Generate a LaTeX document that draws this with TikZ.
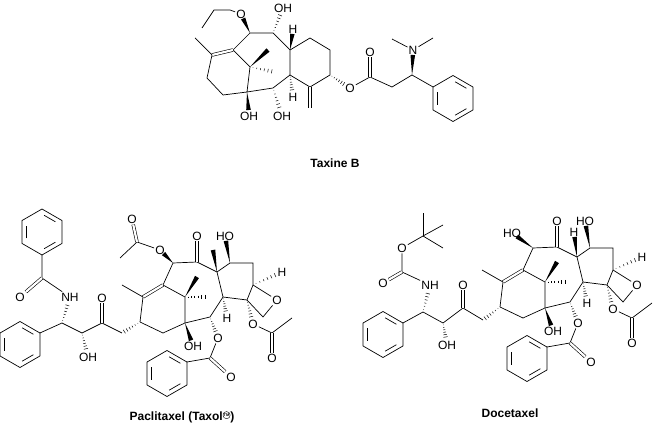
\documentclass[tikz,border=0pt]{standalone}
\usepackage{fontspec}
\setmainfont{Liberation Sans}
\usetikzlibrary{calc}
\tikzset{
 bond/.style={line width=0.7pt},
 dbl/.style={double,double distance=2.2pt,line width=0.6pt},
 atom/.style={inner sep=1pt,font=\fontsize{12}{12}\selectfont},
 title/.style={font=\bfseries\fontsize{12}{12}\selectfont},
}
\newcommand\wdg[3]{\coordinate (wE) at ($(#2)!#3!(#1)$);
 \fill ($(wE)!2.3pt!90:(#1)$) -- (#1) -- ($(wE)!2.3pt!-90:(#1)$) -- cycle;}
\newcommand\hsh[3]{\coordinate (hE) at ($(#2)!#3!(#1)$);
 \foreach \t in {0.12,0.27,0.42,0.57,0.72,0.87,1.0}{\pgfmathsetmacro\w{\t*2.4}
 \draw[line width=0.5pt] ($(#1)!\t!(hE)!\w pt!90:(hE)$) -- ($(#1)!\t!(hE)!\w pt!-90:(hE)$);}}
\newcommand\benz[4]{\coordinate (#1c) at (#2,#3);
 \foreach \k in {0,...,5}{\coordinate (#1\k) at ({#2+23*cos(#4+60*\k)},{#3+23*sin(#4+60*\k)});}
 \draw[bond] (#10)--(#11)--(#12)--(#13)--(#14)--(#15)--cycle;
 \foreach \a/\b in {1/2,3/4,5/0}{\draw[bond,shorten <=2.5pt,shorten >=2.5pt] ($(#1c)!0.78!(#1\a)$) -- ($(#1c)!0.78!(#1\b)$);}}
\newcommand\core[4]{%
\begin{scope}[shift={(#2,#3)}]
\coordinate (#1C13) at (140,322); \coordinate (#1C14) at (163,333); \coordinate (#1C1) at (185,323);
\node[atom] (#1OH1) at (193,346) {OH};
\coordinate (#1C12) at (143,297); \coordinate (#1Me12) at (122,285); \coordinate (#1C11) at (163,285);
\coordinate (#1C15) at (185,297); \coordinate (#1Ma) at (197,277); \coordinate (#1Mb) at (208,297);
\coordinate (#1C10) at (173,263); \coordinate (#1C9) at (197,262); \node[atom] (#1O9) at (197,236) {O};
\coordinate (#1C8) at (217,272); \coordinate (#1C7) at (230,263); \node[atom] (#1OH7) at (225,236) {HO};
\coordinate (#1C6) at (253,263); \coordinate (#1C5) at (253,285); \node[atom] (#1H5) at (282,272) {H};
\coordinate (#1C4) at (247,300); \coordinate (#1Cox) at (263,317); \node[atom] (#1Oox) at (277,300) {O};
\coordinate (#1C3) at (223,297); \node[atom] (#1H3) at (227,318) {H};
\coordinate (#1C2) at (210,317); \node[atom] (#1O2) at (218,338) {O};
\coordinate (#1Cbz) at (210,358); \node[atom] (#1Obz) at (231,377) {O};
\node[atom] (#1O4) at (253,324) {O}; \coordinate (#1Cac) at (272,333); \node[atom] (#1Oac) at (272,358) {O};
\coordinate (#1Meac) at (292,318);
\benz{#1Ph}{167}{373.5}{-30}
\draw[bond] (#1C13)--(#1C14)--(#1C1)--(#1C2)--(#1C3)--(#1C8)--(#1C9)--(#1C10)--(#1C11);
\draw[dbl] (#1C11)--(#1C12); \draw[bond] (#1C12)--(#1C13); \draw[bond] (#1C12)--(#1Me12);
\draw[bond] (#1C11)--(#1C15)--(#1C1);
\wdg{#1C15}{#1Ma}{0pt} \hsh{#1C15}{#1Mb}{0pt}
\wdg{#1C1}{#1OH1}{6pt}
\draw[dbl] (#1C9)--(#1O9);
\draw[bond] (#1C8)--(#1C7)--(#1C6)--(#1C5)--(#1C4)--(#1C3);
\wdg{#1C7}{#1OH7}{5pt}
\hsh{#1C5}{#1H5}{4pt}
\draw[bond] (#1C4)--(#1Cox)--(#1Oox)--(#1C5);
\hsh{#1C3}{#1H3}{5pt}
\hsh{#1C2}{#1O2}{5pt}
\draw[bond] (#1O2)--(#1Cbz); \draw[dbl] (#1Cbz)--(#1Obz); \draw[bond] (#1Cbz)--(#1Ph0);
\hsh{#1C4}{#1O4}{5pt}
\draw[bond] (#1O4)--(#1Cac)--(#1Meac); \draw[dbl] (#1Cac)--(#1Oac);
#4
\end{scope}}
\begin{document}
\begin{tikzpicture}[x=1pt,y=-1pt]
\useasboundingbox (0,0) rectangle (654,427);
% ---------- Taxine B ----------
\coordinate (tA1) at (202,28); \coordinate (tA2) at (214,10); \coordinate (tA3) at (230,10);
\node[atom] (tO1) at (241,14) {O};
\coordinate (tC1) at (250,33); \coordinate (tC2) at (273,33); \node[atom] (tOH2) at (283,8) {OH};
\coordinate (tC3) at (290,50); \node[atom] (tH3) at (293,29) {H};
\coordinate (tC4) at (310,38); \coordinate (tC5) at (330,50); \coordinate (tC6) at (330,75);
\coordinate (tC7) at (310,87); \coordinate (tC8) at (290,75); \node[atom] (tH8) at (293,97) {H};
\coordinate (tCH2) at (310,108); \coordinate (tC9) at (273,88); \node[atom] (tOH9) at (282,116) {OH};
\coordinate (tC10) at (247,92); \node[atom] (tOH10) at (249,116) {OH};
\coordinate (tC11) at (250,67); \coordinate (tMe1) at (268,50); \coordinate (tMe2) at (275,72);
\coordinate (tC12) at (233,50); \coordinate (tC15) at (212,55); \coordinate (tMe15) at (195,38);
\coordinate (tC14) at (207,78); \coordinate (tC13) at (223,95);
\draw[bond] (tA1)--(tA2)--(tA3)--(tO1);
\wdg{tC1}{tO1}{5pt}
\draw[bond] (tC1)--(tC2)--(tC3)--(tC4)--(tC5)--(tC6)--(tC7)--(tC8)--(tC3);
\hsh{tC2}{tOH2}{5pt} \wdg{tC3}{tH3}{5pt}
\draw[dbl] (tC7)--(tCH2);
\hsh{tC8}{tH8}{5pt}
\draw[bond] (tC8)--(tC9)--(tC10)--(tC11)--(tC12)--(tC1);
\hsh{tC9}{tOH9}{6pt} \wdg{tC10}{tOH10}{6pt}
\wdg{tC11}{tMe1}{0pt} \hsh{tC11}{tMe2}{0pt}
\draw[dbl] (tC12)--(tC15);
\draw[bond] (tC15)--(tMe15); \draw[bond] (tC15)--(tC14)--(tC13)--(tC10);
\node[atom] (tO2) at (350,88) {O};
\coordinate (tCe) at (370,77); \node[atom] (tOe) at (370,52) {O};
\coordinate (tCH) at (392,87); \coordinate (tCa) at (412,75); \node[atom] (tN) at (413,50) {N};
\coordinate (tNm1) at (392,39); \coordinate (tNm2) at (433,38);
\hsh{tC6}{tO2}{5pt}
\draw[bond] (tO2)--(tCe)--(tCH)--(tCa); \draw[dbl] (tCe)--(tOe);
\wdg{tCa}{tN}{5pt}
\draw[bond] (tNm1)--(tN)--(tNm2);
\benz{tPh}{453}{98.5}{210}
\draw[bond] (tCa)--(tPh0);
\node[title] (tname) at (335,163) {Taxine B};
% ---------- Paclitaxel ----------
\core{p}{0}{0}{%
 \node[atom] (pO10) at (160,250) {O}; \coordinate (pCa10) at (137,242);
 \node[atom] (pOa10) at (132,219) {O}; \coordinate (pMa10) at (120,258);
 \wdg{pC10}{pO10}{5pt}
 \draw[bond] (pO10)--(pCa10)--(pMa10); \draw[dbl] (pCa10)--(pOa10);
 \coordinate (pMe8) at (213,250); \wdg{pC8}{pMe8}{0pt}}
\benz{pBz}{42}{232}{90}
\coordinate (pCO) at (42,278); \node[atom] (pO1) at (20,297) {O}; \node[atom] (pN) at (70,297) {NH};
\coordinate (pC2) at (62,323); \coordinate (pC3) at (82,333); \node[atom] (pOH3) at (88,357) {OH};
\coordinate (pC4) at (102,323); \node[atom] (pO4) at (102,298) {O}; \coordinate (pC5) at (122,333);
\benz{pPh2}{20}{344.5}{-30}
\draw[bond] (pBz0)--(pCO)--(pN); \draw[dbl] (pCO)--(pO1);
\hsh{pC2}{pN}{6pt}
\draw[bond] (pPh20)--(pC2)--(pC3)--(pC4)--(pC5);
\hsh{pC3}{pOH3}{6pt}
\draw[dbl] (pC4)--(pO4);
\hsh{pC13}{pC5}{0pt}
\node[title] (pname) at (182,417) {Paclitaxel (Taxol\raisebox{5pt}{\tikz[baseline]\node[circle,draw,line width=0.4pt,inner sep=0.3pt,font=\fontsize{4}{4}\selectfont\bfseries]{TM};})};
% ---------- Docetaxel ----------
\core{d}{360}{-15}{%
 \node[atom] (dHO10) at (152,248) {HO}; \wdg{dC10}{dHO10}{6pt}
 \node[atom] (dH8) at (214,247) {H}; \wdg{dC8}{dH8}{5pt}}
\benz{dPh}{383}{334.5}{-30}
\coordinate (dC2) at (423,312); \node[atom] (dN) at (430,285) {NH};
\coordinate (dCc) at (402,272); \node[atom] (dOc) at (383,283) {O}; \node[atom] (dO1) at (402,248) {O};
\coordinate (dCt) at (423,236); \coordinate (dM1) at (423,213); \coordinate (dM2) at (443,225); \coordinate (dM3) at (443,248);
\coordinate (dC3) at (443,323); \node[atom] (dOH3) at (447,345) {OH};
\coordinate (dC4) at (463,308); \node[atom] (dO4) at (463,285) {O}; \coordinate (dC5) at (483,320);
\draw[bond] (dPh0)--(dC2)--(dC3)--(dC4)--(dC5);
\hsh{dC2}{dN}{6pt}
\draw[bond] (dN)--(dCc)--(dO1)--(dCt); \draw[dbl] (dCc)--(dOc);
\draw[bond] (dCt)--(dM1); \draw[bond] (dCt)--(dM2); \draw[bond] (dCt)--(dM3);
\hsh{dC3}{dOH3}{6pt}
\draw[dbl] (dC4)--(dO4);
\hsh{dC13}{dC5}{0pt}
\node[title] (dname) at (510,413) {Docetaxel};
\end{tikzpicture}
\end{document}
